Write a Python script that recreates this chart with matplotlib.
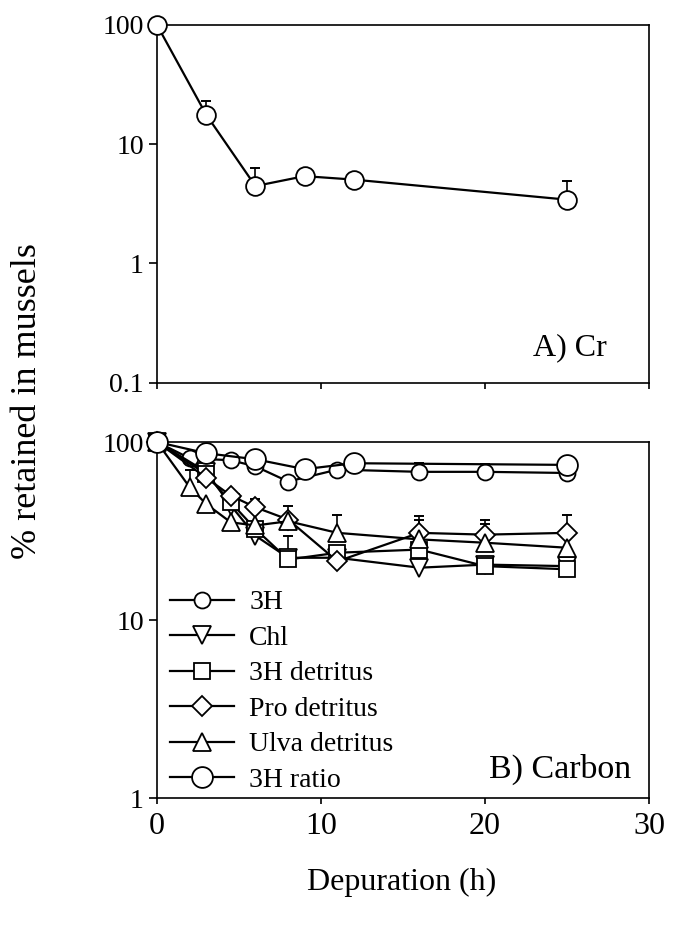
import numpy as np
import matplotlib
matplotlib.use("Agg")
import matplotlib.pyplot as plt

plt.rcParams['font.family'] = ['Liberation Serif', 'DejaVu Serif']

# ---- Panel A: Cr ----
cr_t = [0, 3, 6, 9, 12, 25]
cr_v = [100, 17.7, 4.46, 5.4, 5.05, 3.43]
cr_err_t = [3, 6, 25]
cr_err_top = [23.2, 6.35, 4.9]

# ---- Panel B: Carbon ----
h3_t = [0, 2, 4.5, 6, 8, 11, 16, 20, 25]
h3_v = [100, 81, 79, 73, 60, 70, 68, 68, 67]
h3_err_t = [16, 20]
h3_err_top = [76, 75]

chl_t = [0, 3, 4.5, 6, 8, 11, 16, 20, 25]
chl_v = [100, 68, 44, 29.8, 22.4, 22.4, 19.7, 20.5, 20.1]
chl_err_t = []
chl_err_top = []

det_t = [0, 3, 4.5, 6, 8, 11, 16, 20, 25]
det_v = [100, 66, 45.8, 32.5, 21.9, 23.9, 24.9, 20.1, 19.3]
det_err_t = [8]
det_err_top = [29.6]

pro_t = [0, 3, 4.5, 6, 8, 11, 16, 20, 25]
pro_v = [100, 63, 50, 43, 36.7, 21.4, 30.9, 30.2, 30.9]
pro_err_t = [6, 8, 16, 20, 25]
pro_err_top = [47.9, 43.5, 38.6, 36.7, 38.7]

ulva_t = [0, 2, 3, 4.5, 6, 8, 11, 16, 20, 25]
ulva_v = [100, 55.6, 44.9, 35.4, 34, 35.9, 30.9, 28.4, 27.2, 25.5]
ulva_err_t = [2, 11, 16, 20]
ulva_err_top = [69.5, 39, 36.4, 34.8]

ratio_t = [0, 3, 6, 9, 12, 25]
ratio_v = [100, 86.5, 80, 70.4, 76, 74.4]

labels = ["3H", "Chl", "3H detritus", "Pro detritus", "Ulva detritus", "3H ratio"]

W, H = 689, 933
fig = plt.figure(figsize=(W / 100, H / 100), dpi=100)

def px_rect(x0, y0, x1, y1):
    return [x0 / W, 1 - y1 / H, (x1 - x0) / W, (y1 - y0) / H]

ax1 = fig.add_axes(px_rect(157, 25, 649, 382.7))
ax2 = fig.add_axes(px_rect(157, 442, 649, 798.3))

LW = 1.6
MEW = 1.3

def style(ax, ylim, yticks, ylabels, show_x):
    ax.set_yscale('log')
    ax.set_xlim(0, 30)
    ax.set_ylim(*ylim)
    ax.set_xticks([0, 10, 20, 30])
    ax.set_yticks(yticks)
    ax.set_yticklabels(ylabels)
    ax.minorticks_off()
    ax.tick_params(axis='y', which='major', direction='out', length=5.5, width=1.2,
                   labelsize=20, pad=4)
    ax.tick_params(axis='x', which='major', direction='out', length=4, width=1.2,
                   labelsize=23, pad=6, labelbottom=show_x)
    for s in ax.spines.values():
        s.set_linewidth(1.2)

def draw_err(ax, t, v_at, tops):
    for ti, top in zip(t, tops):
        ax.plot([ti, ti], [v_at(ti), top], color='black', lw=1.2, zorder=2,
                clip_on=False)
        ax.plot([ti], [top], marker='_', ms=7, mew=1.4, color='black', zorder=2,
                clip_on=False)

def val_at(ts, vs):
    d = dict(zip(ts, vs))
    return lambda t: d[t]

# Panel A
style(ax1, (0.1, 100), [0.1, 1, 10, 100], ['0.1', '1', '10', '100'], False)
draw_err(ax1, cr_err_t, val_at(cr_t, cr_v), cr_err_top)
ax1.plot(cr_t, cr_v, color='black', lw=LW, marker='o', ms=13.5, mfc='white',
         mec='black', mew=MEW, zorder=3, clip_on=False)
ax1.text(0.764, 0.077, "A) Cr", transform=ax1.transAxes, fontsize=23,
         va='baseline', ha='left')

# Panel B
style(ax2, (1, 100), [1, 10, 100], ['1', '10', '100'], True)
series = [
    (h3_t, h3_v, 'o', 11.5, h3_err_t, h3_err_top),
    (chl_t, chl_v, 'v', 13, chl_err_t, chl_err_top),
    (det_t, det_v, 's', 11, det_err_t, det_err_top),
    (pro_t, pro_v, 'D', 10.5, pro_err_t, pro_err_top),
    (ulva_t, ulva_v, '^', 13, ulva_err_t, ulva_err_top),
    (ratio_t, ratio_v, 'o', 15, [], []),
]
handles = []
for (t, v, m, ms, et, etop), lab in zip(series, labels):
    draw_err(ax2, et, val_at(t, v), etop)
    h, = ax2.plot(t, v, color='black', lw=LW, marker=m, ms=ms, mfc='white',
                  mec='black', mew=MEW, zorder=3, clip_on=False, label=lab)
    handles.append(h)

ax2.text(0.675, 0.057, "B) Carbon", transform=ax2.transAxes, fontsize=24.5,
         va='baseline', ha='left')

leg = ax2.legend(handles=handles, labels=labels, loc='upper left',
                 bbox_to_anchor=(170 / W, 1 - 590 / H),
                 bbox_transform=fig.transFigure, frameon=False, fontsize=20,
                 handlelength=2.3, handletextpad=0.55, labelspacing=0.36,
                 borderpad=0, borderaxespad=0, numpoints=1)

fig.text(402 / W, 1 - 882 / H, "Depuration (h)", fontsize=23, ha='center',
         va='center')
fig.text(28 / W, 1 - 401 / H, "% retained in mussels", fontsize=26,
         rotation=90, ha='center', va='center')

fig.savefig("out.png", dpi=100)
